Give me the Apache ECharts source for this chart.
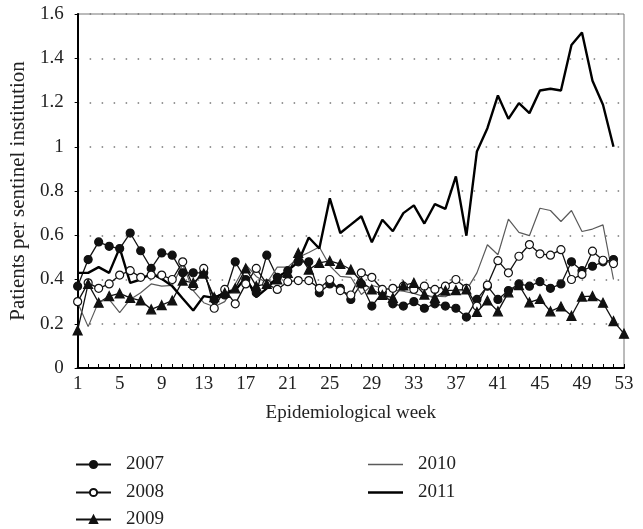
<!DOCTYPE html>
<html>
<head>
<meta charset="utf-8">
<script src="https://cdn.jsdelivr.net/npm/echarts@6/dist/echarts.min.js"></script>
<style>
  html, body { margin: 0; padding: 0; background: #fff; }
  #chart { width: 643px; height: 529px; }
</style>
</head>
<body>
<div id="chart"></div>
<script>
// epidemiological weeks (x categories)
const weeks = [1, 2, 3, 4, 5, 6, 7, 8, 9, 10, 11, 12, 13, 14, 15, 16, 17, 18, 19, 20,
  21, 22, 23, 24, 25, 26, 27, 28, 29, 30, 31, 32, 33, 34, 35, 36, 37, 38, 39, 40,
  41, 42, 43, 44, 45, 46, 47, 48, 49, 50, 51, 52, 53]

// patients per sentinel institution
const s2007 = [0.37, 0.49, 0.57, 0.55, 0.54, 0.61, 0.53, 0.45, 0.52, 0.51, 0.43, 0.43, 0.43,
  0.31, 0.33, 0.48, 0.40, 0.34, 0.51, 0.41, 0.44, 0.48, 0.48, 0.34, 0.38, 0.36, 0.31,
  0.38, 0.28, 0.34, 0.29, 0.28, 0.30, 0.27, 0.29, 0.28, 0.27, 0.23, 0.31, 0.37, 0.31,
  0.35, 0.38, 0.37, 0.39, 0.36, 0.38, 0.48, 0.44, 0.46, 0.48, 0.49]
const s2008 = [0.30, 0.385, 0.36, 0.38, 0.42, 0.44, 0.41, 0.42, 0.42, 0.40, 0.48, 0.37, 0.45,
  0.27, 0.355, 0.29, 0.38, 0.45, 0.38, 0.355, 0.39, 0.395, 0.395, 0.36, 0.40, 0.35, 0.33,
  0.43, 0.41, 0.355, 0.36, 0.37, 0.355, 0.37, 0.355, 0.37, 0.40, 0.36, 0.28, 0.375, 0.485,
  0.43, 0.505, 0.558, 0.516, 0.51, 0.535, 0.40, 0.423, 0.528, 0.487, 0.472]
const s2009 = [0.17, 0.38, 0.295, 0.325, 0.337, 0.317, 0.305, 0.265, 0.284, 0.305, 0.395, 0.385, 0.427,
  0.32, 0.34, 0.36, 0.45, 0.37, 0.38, 0.40, 0.43, 0.52, 0.445, 0.475, 0.484, 0.47, 0.445,
  0.39, 0.355, 0.33, 0.317, 0.373, 0.385, 0.332, 0.317, 0.35, 0.352, 0.355, 0.253, 0.305, 0.256,
  0.342, 0.375, 0.297, 0.312, 0.256, 0.278, 0.236, 0.323, 0.325, 0.295, 0.212, 0.155]
const s2010 = [0.295, 0.187, 0.30, 0.31, 0.25, 0.31, 0.34, 0.38, 0.37, 0.373, 0.468, 0.35, 0.295,
  0.277, 0.30, 0.38, 0.467, 0.414, 0.384, 0.456, 0.456, 0.50, 0.522, 0.547, 0.462, 0.414, 0.41,
  0.332, 0.373, 0.362, 0.352, 0.347, 0.337, 0.322, 0.325, 0.322, 0.347, 0.352, 0.43, 0.557, 0.512,
  0.673, 0.613, 0.598, 0.722, 0.712, 0.662, 0.712, 0.617, 0.628, 0.647, 0.40]
const s2011 = [0.43, 0.43, 0.456, 0.43, 0.543, 0.385, 0.40, 0.427, 0.403, 0.37, 0.314, 0.26, 0.325,
  0.317, 0.34, 0.35, 0.41, 0.32, 0.36, 0.41, 0.44, 0.48, 0.59, 0.54, 0.767, 0.61, 0.648,
  0.686, 0.568, 0.67, 0.618, 0.70, 0.735, 0.653, 0.741, 0.719, 0.866, 0.598, 0.979, 1.084, 1.232,
  1.126, 1.197, 1.152, 1.254, 1.262, 1.254, 1.46, 1.516, 1.298, 1.19, 1.0]

const FONT = '"Liberation Serif", "DejaVu Serif", serif'
const TEXT = '#222'

const chart = echarts.init(document.getElementById('chart'), null, { renderer: 'canvas' })

// 带标记的折线（2007-2009）
const markedLine = (name, data, symbol, fill) => ({
  name,
  type: 'line',
  data,
  symbol,
  symbolSize: symbol === 'triangle' ? 9 : 8,
  showAllSymbol: true,
  lineStyle: { color: '#111', width: 1.3 },
  itemStyle: { color: fill, borderColor: '#111', borderWidth: 1.2 },
  animation: false
})

// 每个图例单独放置，位置与原图一致
const legendItem = (name, left, top, extra) => Object.assign({
  data: [name],
  left, top,
  padding: 0,
  itemWidth: 35, itemHeight: 9,
  textStyle: { fontFamily: FONT, fontSize: 19, color: TEXT, padding: [0, 0, 0, 10] }
}, extra || {})

const option = {
  backgroundColor: '#fff',
  grid: {
    left: 73, top: 14, right: 19, bottom: 161,
    show: true,
    borderColor: '#777',
    borderWidth: 1
  },
  legend: [
    legendItem('2007', 75, 455),
    legendItem('2008', 75, 483),
    legendItem('2009', 75, 510),
    legendItem('2010', 368, 455, { icon: 'rect', itemHeight: 1.4, itemStyle: { color: '#5a5a5a' } }),
    legendItem('2011', 368, 483, { icon: 'rect', itemHeight: 2.6, itemStyle: { color: '#000' } })
  ],
  xAxis: {
    type: 'category',
    data: weeks,
    boundaryGap: false,
    name: 'Epidemiological week',
    nameLocation: 'middle',
    nameGap: 36,
    nameTextStyle: { fontFamily: FONT, fontSize: 19, color: TEXT },
    axisLine: { lineStyle: { color: '#000', width: 2 } },
    axisTick: { show: true, inside: true, interval: 0, length: 4, lineStyle: { color: '#000', width: 1 } },
    axisLabel: { interval: 3, margin: 7, fontFamily: FONT, fontSize: 19, color: TEXT },
    splitLine: { show: false }
  },
  yAxis: {
    type: 'value',
    min: 0, max: 1.6, interval: 0.2,
    name: 'Patients per sentinel institution',
    nameLocation: 'middle',
    nameGap: 40,
    nameTextStyle: { fontFamily: FONT, fontSize: 21, color: TEXT },
    axisLine: { show: true, lineStyle: { color: '#000', width: 2 } },
    axisTick: { show: true, length: 3, lineStyle: { color: '#000' } },
    axisLabel: { margin: 14, fontFamily: FONT, fontSize: 19, color: TEXT },
    splitLine: { show: true, lineStyle: { color: '#777', width: 1.5, type: [1.5, 10.5] } }
  },
  series: [
    markedLine('2007', s2007, 'circle', '#111'),
    markedLine('2008', s2008, 'circle', '#fff'),
    markedLine('2009', s2009, 'triangle', '#111'),
    {
      name: '2010',
      type: 'line',
      data: s2010,
      symbol: 'none',
      lineStyle: { color: '#5a5a5a', width: 1.2 },
      itemStyle: { color: '#5a5a5a' },
      animation: false
    },
    {
      name: '2011',
      type: 'line',
      data: s2011,
      symbol: 'none',
      lineStyle: { color: '#000', width: 2.4 },
      itemStyle: { color: '#000' },
      z: 3,
      animation: false
    }
  ]
}

chart.setOption(option)
window.addEventListener('resize', () => chart.resize())
</script>
</body>
</html>
